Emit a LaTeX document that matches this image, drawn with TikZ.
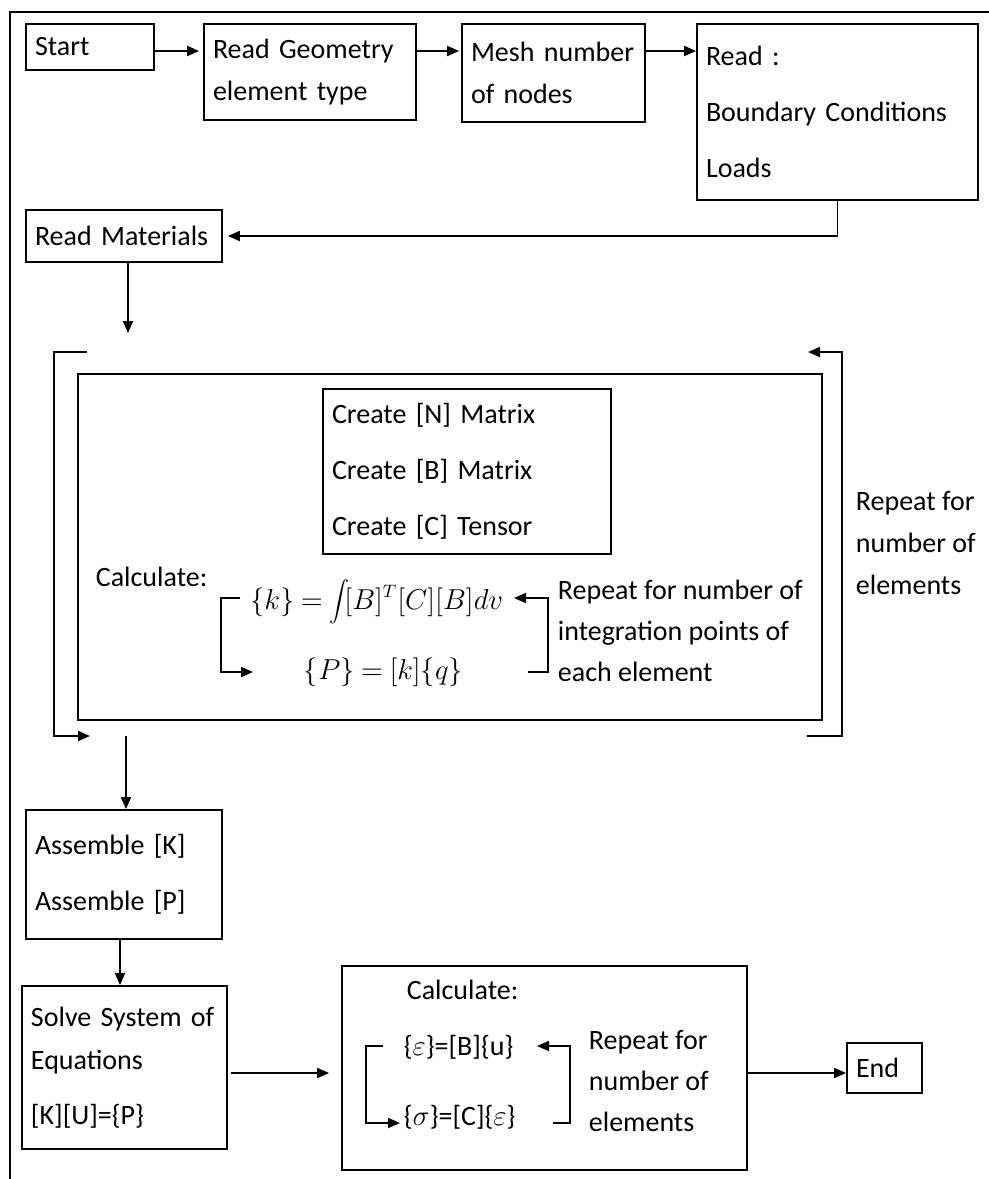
\documentclass[tikz,border=0pt]{standalone}
\usepackage{fontspec}
\setmainfont{Carlito}
\usetikzlibrary{arrows.meta}

\begin{document}
\begin{tikzpicture}[x=0.5pt, y=-0.5pt
        , line width=0.9pt
        , box/.style={draw, rectangle, align=left, inner xsep=4.5pt, inner ysep=0pt,
                      font=\fontsize{14}{21}\selectfont}
        , wide/.style={font=\fontsize{14}{28}\selectfont}
        , lbl/.style={inner sep=0pt, anchor=west, align=left,
                      font=\fontsize{14}{20.5}\selectfont}
        , formula/.style={lbl, font=\fontsize{13.5}{16}\selectfont}
        , arr/.style={-{Triangle[length=6pt,width=5pt]}}
        ]
        \useasboundingbox (0,0) rectangle (989,1179);

        % page frame
        \draw (989,12) -- (10,12) -- (10,1179);

        % top row
        \node[box, text width=55pt, minimum height=23pt] (start) at (90,47) {Start};
        \node[box, text width=97pt, minimum height=48pt] (geom) at (310,72)
            {Read Geometry\\element type};
        \node[box, text width=82.5pt, minimum height=49pt] (mesh) at (553.5,73)
            {Mesh number\\of nodes};
        \node[box, wide, text width=131.5pt, minimum height=88pt] (read) at (837.5,112)
            {Read :\\Boundary Conditions\\Loads};
        \node[box, text width=89pt, minimum height=26pt] (mat) at (124,236) {Read Materials};

        \coordinate (toprow) at (0,51);
        \draw[arr, shorten >=2pt] (start.east |- toprow) -- (geom.west |- toprow);
        \draw[arr, shorten >=1pt] (geom.east |- toprow) -- (mesh.west |- toprow);
        \draw[arr] (mesh.east |- toprow) -- (read.west |- toprow);
        \draw[arr, shorten >=2.5pt] (read.south) |- (mat.east);

        % loop over the elements
        \node[draw, minimum width=372pt, minimum height=173pt] (elemloop) at (450,547) {};
        \node[box, wide, text width=135pt, minimum height=82.5pt] (create) at (467,471.5)
            {Create [N] Matrix\\Create [B] Matrix\\Create [C] Tensor};
        \node[lbl] (calcA) at (95,577) {Calculate:};
        \node[formula, anchor=east] (kform) at (504,602)
            {$\thickmuskip=4mu\displaystyle\{k\}=\int\![B]^T[C][B]dv$};
        \node[formula] (pform) at (303,672) {$\thickmuskip=4mu\{P\}=[k]\{q\}$};
        \node[lbl] (repA) at (557,631)
            {Repeat for number of\\integration points of\\each element};
        \node[lbl, font=\fontsize{14}{21}\selectfont] (repB) at (855,543)
            {Repeat for\\number of\\elements};

        \coordinate (ilt) at (240,598);
        \coordinate (ilb) at (253,672);
        \coordinate (irb) at (528,672);
        \coordinate (irt) at (514,598);
        \draw[arr] (ilt) -- ++(-19,0) |- (ilb);
        \draw[arr] (irb) -- ++(20,0) |- (irt);

        \coordinate (oin) at (128,333);
        \coordinate (olt) at (87,352);
        \coordinate (olb) at (90,736);
        \coordinate (orb) at (807,736);
        \coordinate (ort) at (808,352);
        \coordinate (oout) at (126,736);
        \draw[arr] (mat.south -| oin) -- (oin);
        \draw[arr] (olt) -- ++(-33,0) |- (olb);
        \draw[arr] (orb) -- ++(35,0) |- (ort);

        % assembly and solution
        \node[box, wide, text width=89pt, minimum height=64.5pt] (asm) at (124,874.5)
            {Assemble [K]\\Assemble [P]};
        \node[box, font=\fontsize{14}{21.5}\selectfont, text width=93.5pt,
              minimum height=81.5pt] (solve) at (124.5,1067.5)
            {Solve System of\\Equations\\[6pt][K][U]=\{P\}};
        \draw[arr] (oout) -- (oout |- asm.north);
        \draw[arr] ([xshift=-2pt]asm.south) -- ([xshift=-2pt]asm.south |- solve.north);

        % strains and stresses
        \node[draw, minimum width=202.5pt, minimum height=102pt] (strbox) at (544.5,1068) {};
        \node[lbl] (calcB) at (406,990) {Calculate:};
        \node[lbl] (eps) at (403,1047) {\{$\varepsilon$\}=[B]\{u\}};
        \node[lbl] (sig) at (403,1117) {\{$\sigma$\}=[C]\{$\varepsilon$\}};
        \node[lbl] (repC) at (588,1081) {Repeat for\\number of\\elements};
        \node[box, text width=28.5pt, minimum height=25pt] (end) at (884.5,1068) {End};

        \coordinate (slt) at (383,1046);
        \coordinate (slb) at (400,1123);
        \coordinate (srb) at (553,1123);
        \coordinate (srt) at (537,1046);
        \draw[arr] (slt) -- ++(-17,0) |- (slb);
        \draw[arr] (srb) -- ++(17,0) |- (srt);

        \coordinate (botrow) at (0,1073);
        \draw[arr, shorten <=1.5pt, shorten >=6pt] (solve.east |- botrow) -- (strbox.west |- botrow);
        \draw[arr] (strbox.east |- botrow) -- (end.west |- botrow);

    \end{tikzpicture}
\end{document}
